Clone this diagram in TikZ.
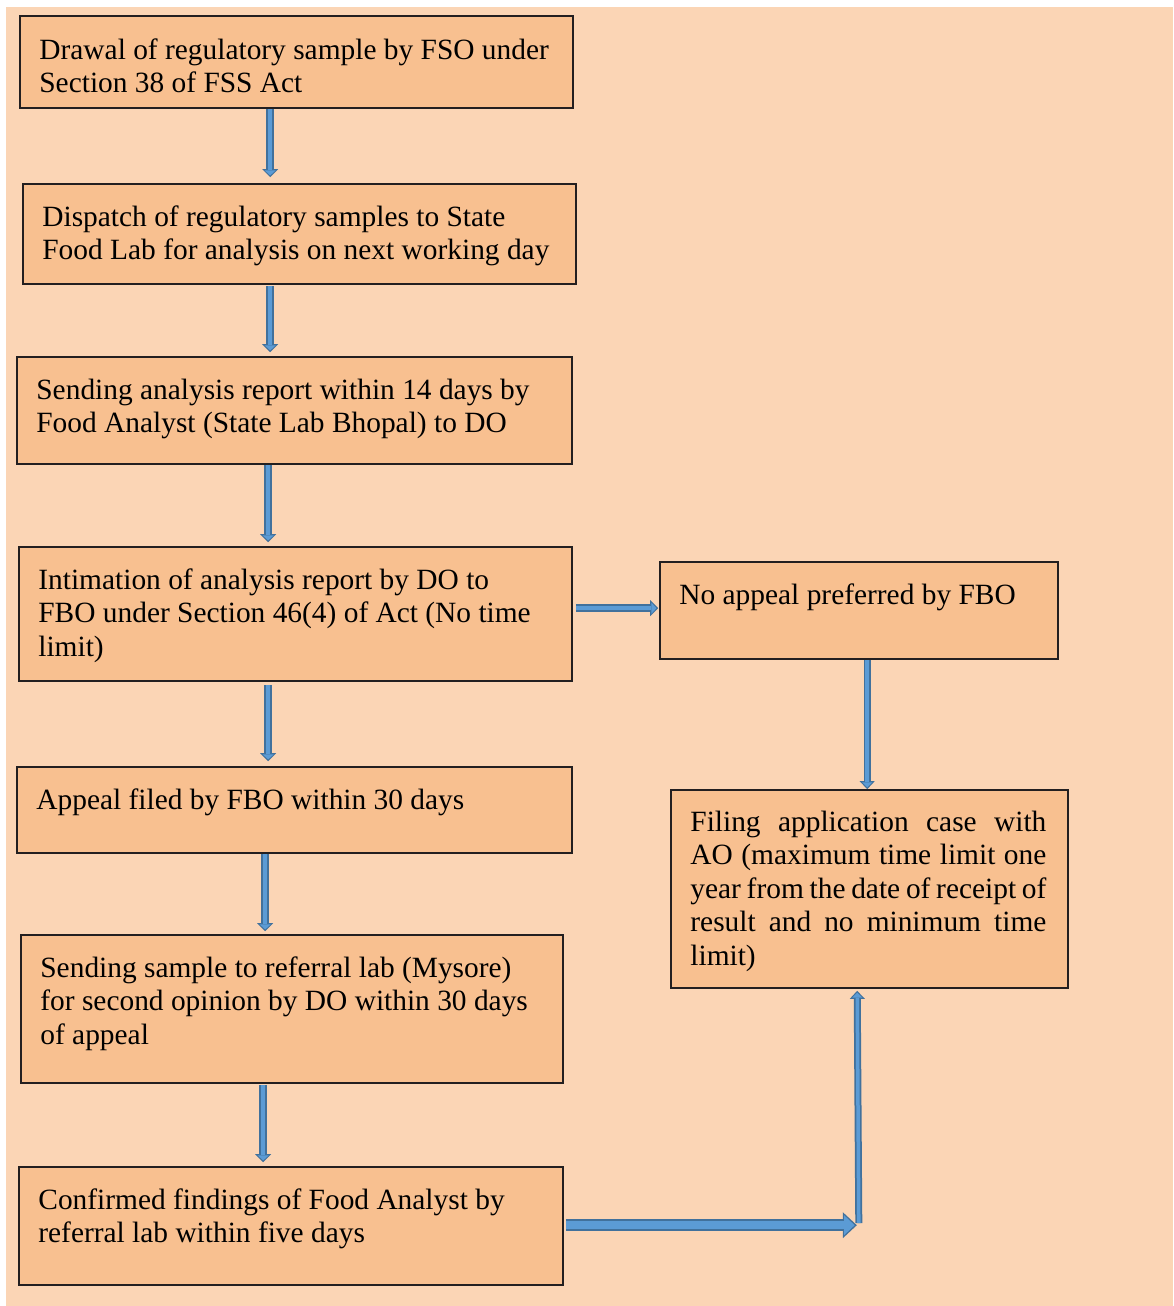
\documentclass[tikz,border=0pt]{standalone}
\usepackage{fontspec}
\setmainfont{Liberation Serif}
\usetikzlibrary{arrows.meta,calc}
\definecolor{pagepeach}{RGB}{251,213,181}
\definecolor{boxpeach}{RGB}{248,192,144}
\definecolor{boxline}{RGB}{35,31,32}
\definecolor{arrowfill}{RGB}{91,155,213}
\definecolor{arrowline}{RGB}{65,113,156}
\begin{document}
\begin{tikzpicture}
[x=1pt, y=-1pt,
box/.style={draw=boxline, fill=boxpeach, line width=1.6pt, inner sep=0pt},
txt/.style={anchor=base west, inner sep=0pt, text width=530pt, align=flush left, font=\fontsize{29.4}{33.5}\selectfont},
flow/.style={draw=arrowfill, line width=4.5pt, shorten >=1.8pt, -{Triangle[length=5pt,width=11pt,line width=0pt]},
  preaction={draw=arrowline, line width=8pt, shorten >=0pt, -{Triangle[length=8pt,width=16pt,line width=0pt]}}},
thinflow/.style={draw=arrowfill, line width=3.5pt, shorten >=1.8pt, -{Triangle[length=5pt,width=10pt,line width=0pt]},
  preaction={draw=arrowline, line width=7pt, shorten >=0pt, -{Triangle[length=8pt,width=15pt,line width=0pt]}}},
bigflow/.style={draw=arrowfill, line width=8pt, shorten >=2.2pt, -{Triangle[length=10.5pt,width=20pt,line width=0pt]},
  preaction={draw=arrowline, line width=11.5pt, shorten >=0pt, -{Triangle[length=14pt,width=26pt,line width=0pt]}}}]
\useasboundingbox (0,0) rectangle (1173,1306);
\fill[pagepeach] (6,7) rectangle (1173,1306);
\node[box, minimum width=553pt, minimum height=92pt] (b1) at (296.5,62) {};
\node[box, minimum width=553pt, minimum height=100pt] (b2) at (299.5,234) {};
\node[box, minimum width=555pt, minimum height=107pt] (b3) at (294.5,410.5) {};
\node[box, minimum width=553pt, minimum height=134pt] (b4) at (295.5,614) {};
\node[box, minimum width=555pt, minimum height=86pt] (b5) at (294.5,810) {};
\node[box, minimum width=542pt, minimum height=148pt] (b6) at (292,1009) {};
\node[box, minimum width=544pt, minimum height=118pt] (b7) at (291,1226) {};
\node[box, minimum width=398pt, minimum height=97pt] (noappeal) at (859,610.5) {};
\node[box, minimum width=397pt, minimum height=198pt] (filing) at (869.5,889) {};
\node[txt] (t1) at ($(b1.north west)+(20,44)$) {Drawal of regulatory sample by FSO under\\Section 38 of FSS Act};
\node[txt] (t2) at ($(b2.north west)+(20,43)$) {Dispatch of regulatory samples to State\\Food Lab for analysis on next working day};
\node[txt] (t3) at ($(b3.north west)+(20,43)$) {Sending analysis report within 14 days by\\Food Analyst (State Lab Bhopal) to DO};
\node[txt] (t4) at ($(b4.north west)+(20,43)$) {Intimation of analysis report by DO to\\FBO under Section 46(4) of Act (No time\\limit)};
\node[txt] (t5) at ($(b5.north west)+(20,43)$) {Appeal filed by FBO within 30 days};
\node[txt] (t6) at ($(b6.north west)+(20,43)$) {Sending sample to referral lab (Mysore)\\for second opinion by DO within 30 days\\of appeal};
\node[txt] (t7) at ($(b7.north west)+(20,43)$) {Confirmed findings of Food Analyst by\\referral lab within five days};
\node[txt, text width=370pt] (t8) at ($(noappeal.north west)+(20,43)$) {No appeal preferred by FBO};
\node[txt, text width=356pt, align=justify] (t9) at ($(filing.north west)+(20,42)$) {Filing application case with\linebreak AO (maximum time limit one\linebreak year from the date of receipt of\linebreak result and no minimum time\linebreak limit)};
\coordinate (turn) at ($(b7.north east)+(295,59)$);
\draw[flow] ($(b1.south west)+(251,0)$) -- ($(b2.north west)+(248,-6)$);
\draw[flow] ($(b2.south west)+(248,1)$) -- ($(b3.north west)+(254,-4)$);
\draw[flow] ($(b3.south west)+(252,0)$) -- ($(b4.north west)+(250,-4)$);
\draw[flow] ($(b4.south west)+(250,3)$) -- ($(b5.north west)+(252,-5)$);
\draw[flow] ($(b5.south west)+(249,0)$) -- ($(b6.north west)+(245,-3)$);
\draw[flow] ($(b6.south west)+(243,1)$) -- ($(b7.north west)+(245,-4)$);
\draw[flow] ($(b4.north east)+(3,62)$) -- ($(noappeal.north west)+(-1,47)$);
\draw[thinflow] ($(noappeal.south west)+(208,0)$) -- ($(filing.north west)+(197,0)$);
\draw[thinflow] ($(turn)+(0,-2)$) -- ($(filing.south west)+(187,2)$);
\draw[bigflow] ($(b7.north east)+(2,59)$) -- ($(turn)+(-2,0)$);
\end{tikzpicture}
\end{document}
